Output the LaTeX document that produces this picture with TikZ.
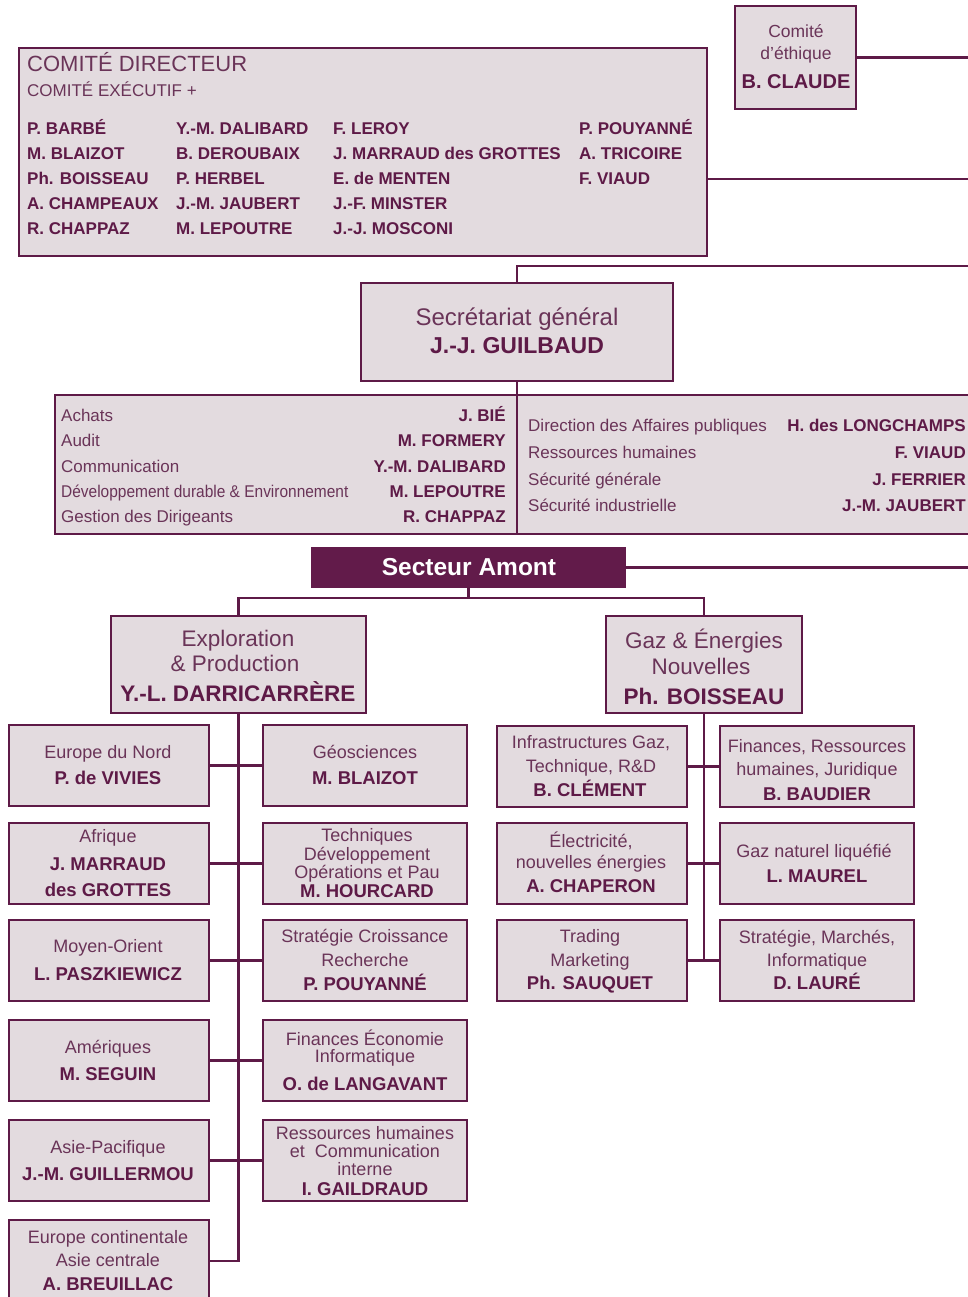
\documentclass[tikz,border=0pt]{standalone}
\usepackage{fontspec}
\setmainfont{Liberation Sans}
\definecolor{pur}{HTML}{5E1A47}
\definecolor{purl}{HTML}{6A3458}
\definecolor{bfill}{HTML}{E3DBDF}
\definecolor{sfill}{HTML}{621B4A}
\newcounter{lc}
\newcommand\Ln[4]{\stepcounter{lc}\node[#1] (ln\arabic{lc}) at (#2,#3) {#4};}
\newcommand\Bx[6][]{\node[box,#1,minimum width=#5-#3,minimum height=#6-#4] (#2) at ({(#3+#5)/2},{(#4+#6)/2}) {};}
\begin{document}
\begin{tikzpicture}[x=1pt,y=-1pt,
  box/.style={draw=pur, fill=bfill, line width=2.4pt, inner sep=0pt, outer sep=0pt},
  conn/.style={draw=pur, line width=2.2pt},
  tx/.style={inner sep=0pt, text depth=0pt},
  rg/.style={tx, text=purl, font=\fontsize{18}{20}\selectfont, text height=12.9pt},
  bd/.style={tx, text=pur, font=\bfseries\fontsize{18.5}{20}\selectfont, text height=13.2pt},
  rgL/.style={tx, text=purl, font=\fontsize{22.5}{24}\selectfont, text height=16.1pt},
  bdL/.style={tx, text=pur, font=\bfseries\fontsize{22.5}{24}\selectfont, text height=16.1pt},
  tl/.style={inner sep=0pt, anchor=base west, text=pur, font=\bfseries\fontsize{17}{19}\selectfont},
  sl/.style={inner sep=0pt, anchor=base west, text=purl, font=\fontsize{17}{19}\selectfont},
  sr/.style={inner sep=0pt, anchor=base east, text=pur, font=\bfseries\fontsize{17}{19}\selectfont}]
\useasboundingbox (0,0) rectangle (968,1297);
\fill[white] (0,0) rectangle (968,1297);
\coordinate (edge) at (975,0);
% ---------- boxes
\Bx{ce}{735}{6}{856}{109}
\Bx{cd}{19}{48}{707}{256}
\Bx{sg}{361}{283}{673}{381}
\Bx{st}{55}{395}{990}{534}
\Bx[fill=sfill,draw=sfill]{sa}{312}{548}{625}{587}
\Bx{ep}{111}{616}{366}{713}
\Bx{gz}{606}{616}{802}{713}
\Bx{en}{9}{725}{209}{806}
\Bx{geo}{263}{725}{467}{806}
\Bx{af}{9}{823}{209}{904}
\Bx{tdo}{263}{823}{467}{904}
\Bx{mo}{9}{920}{209}{1001}
\Bx{scr}{263}{920}{467}{1001}
\Bx{am}{9}{1020}{209}{1101}
\Bx{fei}{263}{1020}{467}{1101}
\Bx{ap}{9}{1120}{209}{1201}
\Bx{rhc}{263}{1120}{467}{1201}
\Bx{ec}{9}{1220}{209}{1302}
\Bx{ig}{497}{726}{687}{807}
\Bx{fr}{720}{726}{914}{807}
\Bx{el}{497}{823}{687}{904}
\Bx{gnl}{720}{823}{914}{904}
\Bx{tm}{497}{920}{687}{1001}
\Bx{smi}{720}{920}{914}{1001}
% ---------- connectors
\coordinate (c179) at (975,179);
\coordinate (c266) at (975,266);
\draw[conn] (ce.east) -- (ce.east -| edge);
\draw[conn] (c179 -| cd.east) -- (c179);
\draw[conn] (sg.north) |- (c266);
\draw[conn] (sg.south) -- (sg.south |- st.south);
\draw[conn] (sa.east) -- (sa.east -| edge);
\path (sa.south) ++(0,11) coordinate (bar);
\draw[conn] (sa.south) -- (bar);
\draw[conn] (ep.north) |- (bar) -| (gz.north);
\draw[conn] (ep.south) |- (ec.east);
\draw[conn] (en.east) -- (geo.west);
\draw[conn] (af.east) -- (tdo.west);
\draw[conn] (mo.east) -- (scr.west);
\draw[conn] (am.east) -- (fei.west);
\draw[conn] (ap.east) -- (rhc.west);
\draw[conn] (gz.south) -- (gz.south |- tm.east);
\draw[conn] (ig.east) -- (fr.west);
\draw[conn] (el.east) -- (gnl.west);
\draw[conn] (tm.east) -- (smi.west);
% ---------- Comite d'ethique
\Ln{rg, font=\fontsize{17.5}{20}\selectfont, text height=12.5pt}{796}{31.5}{Comité}
\Ln{rg, font=\fontsize{17.5}{20}\selectfont, text height=12.5pt}{796}{53.5}{d’éthique}
\Ln{bd, font=\bfseries\fontsize{20}{22}\selectfont, text height=14.3pt}{796}{81.5}{B. CLAUDE}
% ---------- Comite directeur
\Ln{tl, text=purl, font=\fontsize{22}{24}\selectfont}{27}{72}{COMITÉ DIRECTEUR}
\Ln{tl, text=purl, font=\fontsize{17}{19}\selectfont}{27}{97}{COMITÉ EXÉCUTIF +}
\Ln{tl}{27}{135}{P. BARBÉ}
\Ln{tl}{27}{159.5}{M. BLAIZOT}
\Ln{tl}{27}{184.5}{Ph. BOISSEAU}
\Ln{tl}{27}{209.5}{A. CHAMPEAUX}
\Ln{tl}{27}{234.5}{R. CHAPPAZ}
\Ln{tl}{176}{135}{Y.-M. DALIBARD}
\Ln{tl}{176}{159.5}{B. DEROUBAIX}
\Ln{tl}{176}{184.5}{P. HERBEL}
\Ln{tl}{176}{209.5}{J.-M. JAUBERT}
\Ln{tl}{176}{234.5}{M. LEPOUTRE}
\Ln{tl}{333}{135}{F. LEROY}
\Ln{tl}{333}{159.5}{J. MARRAUD des GROTTES}
\Ln{tl}{333}{184.5}{E. de MENTEN}
\Ln{tl}{333}{209.5}{J.-F. MINSTER}
\Ln{tl}{333}{234.5}{J.-J. MOSCONI}
\Ln{tl}{579}{135}{P. POUYANNÉ}
\Ln{tl}{579}{159.5}{A. TRICOIRE}
\Ln{tl}{579}{184.5}{F. VIAUD}
% ---------- Secretariat
\Ln{rgL, font=\fontsize{24}{26}\selectfont, text height=17.2pt}{517}{317}{Secrétariat général}
\Ln{bdL, font=\bfseries\fontsize{23}{25}\selectfont, text height=16.5pt}{517}{345}{J.-J. GUILBAUD}
% ---------- staff
\Ln{sl}{61}{421.5}{Achats}
\Ln{sl}{61}{446.5}{Audit}
\Ln{sl}{61}{472}{Communication}
\Ln{sl}{61}{497}{\scalebox{0.91}[1]{Développement durable \& Environnement}}
\Ln{sl}{61}{522}{Gestion des Dirigeants}
\Ln{sr}{506}{421.5}{J. BIÉ}
\Ln{sr}{506}{446.5}{M. FORMERY}
\Ln{sr}{506}{472}{Y.-M. DALIBARD}
\Ln{sr}{506}{497}{M. LEPOUTRE}
\Ln{sr}{506}{522}{R. CHAPPAZ}
\Ln{sl}{528}{431.5}{Direction des Affaires publiques}
\Ln{sl}{528}{458}{Ressources humaines}
\Ln{sl}{528}{485}{Sécurité générale}
\Ln{sl}{528}{511.5}{Sécurité industrielle}
\Ln{sr}{966}{431.5}{H. des LONGCHAMPS}
\Ln{sr}{966}{458}{F. VIAUD}
\Ln{sr}{966}{485}{J. FERRIER}
\Ln{sr}{966}{511.5}{J.-M. JAUBERT}
% ---------- Secteur Amont
\Ln{bdL, text=white, font=\bfseries\fontsize{24.5}{26}\selectfont, text height=17.5pt}{469}{567}{Secteur Amont}
% ---------- E&P
\Ln{rgL}{238}{638}{Exploration}
\Ln{rgL}{235}{663.5}{\& Production}
\Ln{bdL}{238}{693.5}{Y.-L. DARRICARRÈRE}
\Ln{rgL}{704}{640}{Gaz \& Énergies}
\Ln{rgL}{701}{666.5}{Nouvelles}
\Ln{bdL}{704}{696}{Ph. BOISSEAU}
% ---------- E&P children
\Ln{rg}{108}{752}{Europe du Nord}
\Ln{bd}{108}{778}{P. de VIVIES}
\Ln{rg}{365}{752}{Géosciences}
\Ln{bd}{365}{778}{M. BLAIZOT}
\Ln{rg}{108}{836}{Afrique}
\Ln{bd}{108}{863.5}{J. MARRAUD}
\Ln{bd}{108}{889.5}{des GROTTES}
\Ln{rg}{367}{835.5}{Techniques}
\Ln{rg}{367}{854}{Développement}
\Ln{rg}{367}{872.5}{Opérations et Pau}
\Ln{bd}{367}{891}{M. HOURCARD}
\Ln{rg}{108}{946}{Moyen-Orient}
\Ln{bd}{108}{973.5}{L. PASZKIEWICZ}
\Ln{rg}{365}{936}{Stratégie Croissance}
\Ln{rg}{365}{960}{Recherche}
\Ln{bd}{365}{984}{P. POUYANNÉ}
\Ln{rg}{108}{1047.5}{Amériques}
\Ln{bd}{108}{1073.5}{M. SEGUIN}
\Ln{rg}{365}{1039}{Finances Économie}
\Ln{rg}{365}{1056}{Informatique}
\Ln{bd}{365}{1083.5}{O. de LANGAVANT}
\Ln{rg}{108}{1147}{Asie-Pacifique}
\Ln{bd}{108}{1173.5}{J.-M. GUILLERMOU}
\Ln{rg}{365}{1133}{Ressources humaines}
\Ln{rg}{365}{1151}{et\ \ Communication}
\Ln{rg}{365}{1169.5}{interne}
\Ln{bd}{365}{1189}{I. GAILDRAUD}
\Ln{rg}{108}{1237}{Europe continentale}
\Ln{rg}{108}{1260}{Asie centrale}
\Ln{bd}{108}{1284}{A. BREUILLAC}
% ---------- Gaz children
\Ln{rg}{591}{742.5}{Infrastructures Gaz,}
\Ln{rg}{591}{766.5}{Technique, R\&D}
\Ln{bd}{590}{790}{B. CLÉMENT}
\Ln{rg}{817}{746.5}{Finances, Ressources}
\Ln{rg}{817}{769.5}{humaines, Juridique}
\Ln{bd}{817}{793.5}{B. BAUDIER}
\Ln{rg}{591}{841}{Électricité,}
\Ln{rg}{591}{862}{nouvelles énergies}
\Ln{bd}{591}{886}{A. CHAPERON}
\Ln{rg}{814}{851}{Gaz naturel liquéfié}
\Ln{bd}{817}{875.5}{L. MAUREL}
\Ln{rg}{590}{936.5}{Trading}
\Ln{rg}{590}{960}{Marketing}
\Ln{bd}{590}{983}{Ph. SAUQUET}
\Ln{rg}{817}{937.5}{Stratégie, Marchés,}
\Ln{rg}{817}{960}{Informatique}
\Ln{bd}{817}{983}{D. LAURÉ}
\end{tikzpicture}
\end{document}
